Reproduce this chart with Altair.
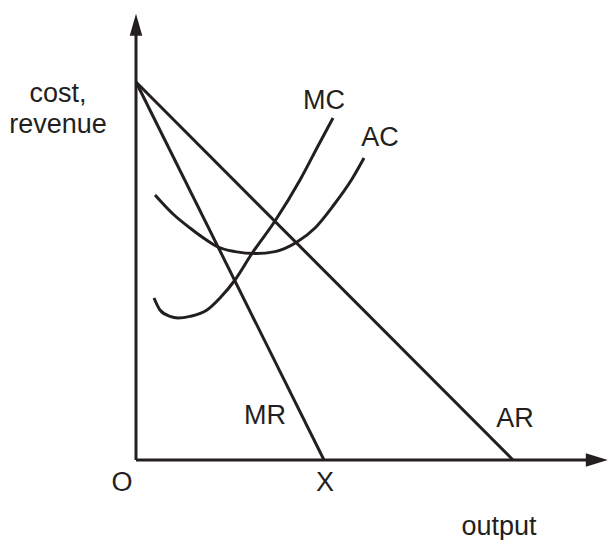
import altair as alt
import pandas as pd

INK = "#231f20"
FONT = "Liberation Sans"

# Straight lines (MR, AR) and axes, in data units
mr_x = [0, 47]
mr_y = [94.5, 0]
ar_x = [0, 94.25]
ar_y = [94.5, 0]

# Cost curves
mc_x = [4.5, 6, 8.5, 10.5, 13.5, 17.75, 21, 24.75, 28.9, 34.75, 41, 45.5, 49.25]
mc_y = [40.5, 37.5, 35.9, 35.5, 35.9, 37.5, 40.5, 45, 51.5, 59.75, 70, 78.5, 85.5]
ac_x = [4.75, 9.25, 13.5, 17.25, 20.5, 24.75, 30, 34.75, 40.25, 44.75, 49.25, 54, 57]
ac_y = [66.25, 61.5, 58, 55.25, 53.25, 52.1, 51.6, 52.1, 54.5, 58, 63.5, 70.25, 75.5]

# Axes
axis_names = ["yaxis", "yaxis", "xaxis", "xaxis"]
axis_x = [0, 0, 0, 113]
axis_y = [0, 107, 0, 0]

# Arrow heads
arrow_x = [0, 115.2]
arrow_y = [108.8, 0]
arrow_shape = ["M0,-1L0.57,1L-0.57,1Z", "M1,0L-1,0.62L-1,-0.62Z"]

# Labels
label_text = ["cost,", "revenue", "MC", "AC", "MR", "AR", "O", "X", "output"]
label_x = [-19.5, -19.5, 47, 61, 32.25, 94.75, -3.5, 47.25, 90.75]
label_y = [89.6, 81.75, 87.75, 78.5, 9, 8.25, -7.7, -7.7, -18.75]

xs = alt.Scale(domain=[-32, 118], nice=False, zero=False)
ys = alt.Scale(domain=[-20, 113], nice=False, zero=False)

straight = pd.DataFrame({
    "name": ["MR"] * 2 + ["AR"] * 2 + axis_names,
    "x": mr_x + ar_x + axis_x,
    "y": mr_y + ar_y + axis_y,
    "o": [0, 1, 0, 1, 0, 1, 0, 1],
})
curves = pd.DataFrame({
    "name": ["MC"] * len(mc_x) + ["AC"] * len(ac_x),
    "x": mc_x + ac_x,
    "y": mc_y + ac_y,
    "o": list(range(len(mc_x))) + list(range(len(ac_x))),
})
arrows = pd.DataFrame({"x": arrow_x, "y": arrow_y, "shape": arrow_shape})
labels = pd.DataFrame({"t": label_text, "x": label_x, "y": label_y})

X = alt.X("x:Q", scale=xs, axis=None)
Y = alt.Y("y:Q", scale=ys, axis=None)

lines = alt.Chart(straight).mark_line(color=INK, strokeWidth=3, strokeCap="butt").encode(
    x=X, y=Y, detail="name:N", order="o:Q")
curve_layer = alt.Chart(curves).mark_line(color=INK, strokeWidth=3, interpolate="monotone").encode(
    x=X, y=Y, detail="name:N", order="o:Q")

heads = []
for i in range(len(arrow_x)):
    heads.append(
        alt.Chart(arrows.iloc[[i]]).mark_point(
            shape=arrow_shape[i], filled=True, color=INK, opacity=1, size=484, strokeWidth=0
        ).encode(x=X, y=Y)
    )

text = alt.Chart(labels).mark_text(
    font=FONT, fontSize=27, color=INK, align="center", baseline="alphabetic"
).encode(x=X, y=Y, text="t:N")

chart = alt.layer(lines, curve_layer, *heads, text).properties(
    width=600, height=532, padding=0, background="white"
).configure_view(stroke=None)

chart.save("out.html", embed_options={"renderer": "svg", "actions": False})
